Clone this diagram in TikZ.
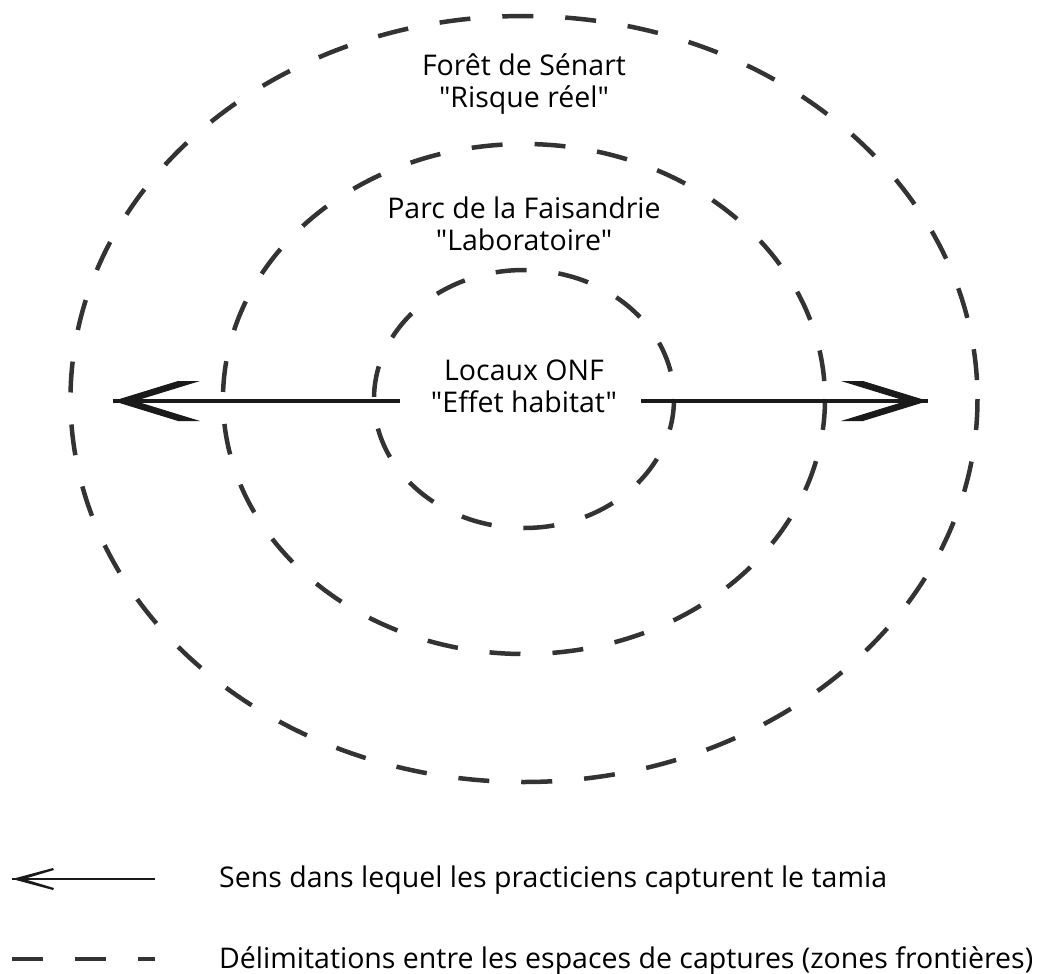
\documentclass[tikz,border=0pt]{standalone}
\usepackage{fontspec}
\setmainfont{Open Sans}[Ligatures=TeXOff]
\definecolor{zonegray}{HTML}{333333}
\definecolor{arrowblack}{HTML}{1A1A1A}
\begin{document}
\begin{tikzpicture}[x=1pt,y=-1pt,
  zone/.style={draw=zonegray, line width=4.5pt, dash pattern=on 31pt off 32pt},
  lbl/.style={anchor=base, inner sep=0pt, font=\fontsize{28.5}{32}\selectfont, text=black},
  legtext/.style={anchor=base west, inner sep=0pt, font=\fontsize{28.5}{32}\selectfont, text=black},
  shaft/.style={draw=arrowblack, line width=4pt},
  thinshaft/.style={draw=arrowblack, line width=2pt},
  headfill/.style={fill=arrowblack}
]
\useasboundingbox (0,0) rectangle (1042,974);

% centre of the zones
\coordinate (c) at (524,399);

% zone boundaries
\draw[zone] (c) ellipse [x radius=453.5, y radius=383];
\draw[zone] (c) ellipse [x radius=301, y radius=255];
\draw[zone] (c) ellipse [x radius=150, y radius=129];

% labels
\node[lbl] (foret) at (524,76) {Forêt de Sénart};
\node[lbl] (risque) at (524,107) {"Risque réel"};
\node[lbl] (parc) at (524,218) {Parc de la Faisandrie};
\node[lbl] (labo) at (524,250) {"Laboratoire"};
\node[lbl] (locaux) at (524,380) {Locaux ONF};
\node[lbl] (effet) at (524,412) {"Effet habitat"};

% main arrows
\coordinate (lstart) at (400,401);
\coordinate (ltip) at (113,401);
\coordinate (rstart) at (641,401);
\coordinate (rtip) at (928,401);
\draw[shaft] (lstart) -- (ltip);
\fill[headfill] (ltip) -- ++(65,-20) -- ++(22,0) -- ++(-65,20) -- ++(65,20) -- ++(-22,0) -- cycle;
\draw[shaft] (rstart) -- (rtip);
\fill[headfill] (rtip) -- ++(-65,-20) -- ++(-22,0) -- ++(65,20) -- ++(-65,20) -- ++(22,0) -- cycle;

% legend
\coordinate (legstart) at (155,879);
\coordinate (legtip) at (12,879);
\draw[thinshaft] (legstart) -- (legtip);
\fill[headfill] (legtip) -- ++(41,-11) -- ++(1,2) -- ++(-30,9) -- ++(30,9) -- ++(-1,2) -- cycle;
\node[legtext] (leg1) at (219,887) {Sens dans lequel les practiciens capturent le tamia};

\coordinate (dashstart) at (12,959);
\coordinate (dashend) at (155,959);
\draw[zone, line width=4pt] (dashstart) -- (dashend);
\node[legtext] (leg2) at (219,968) {Délimitations entre les espaces de captures (zones frontières)};
\end{tikzpicture}
\end{document}
